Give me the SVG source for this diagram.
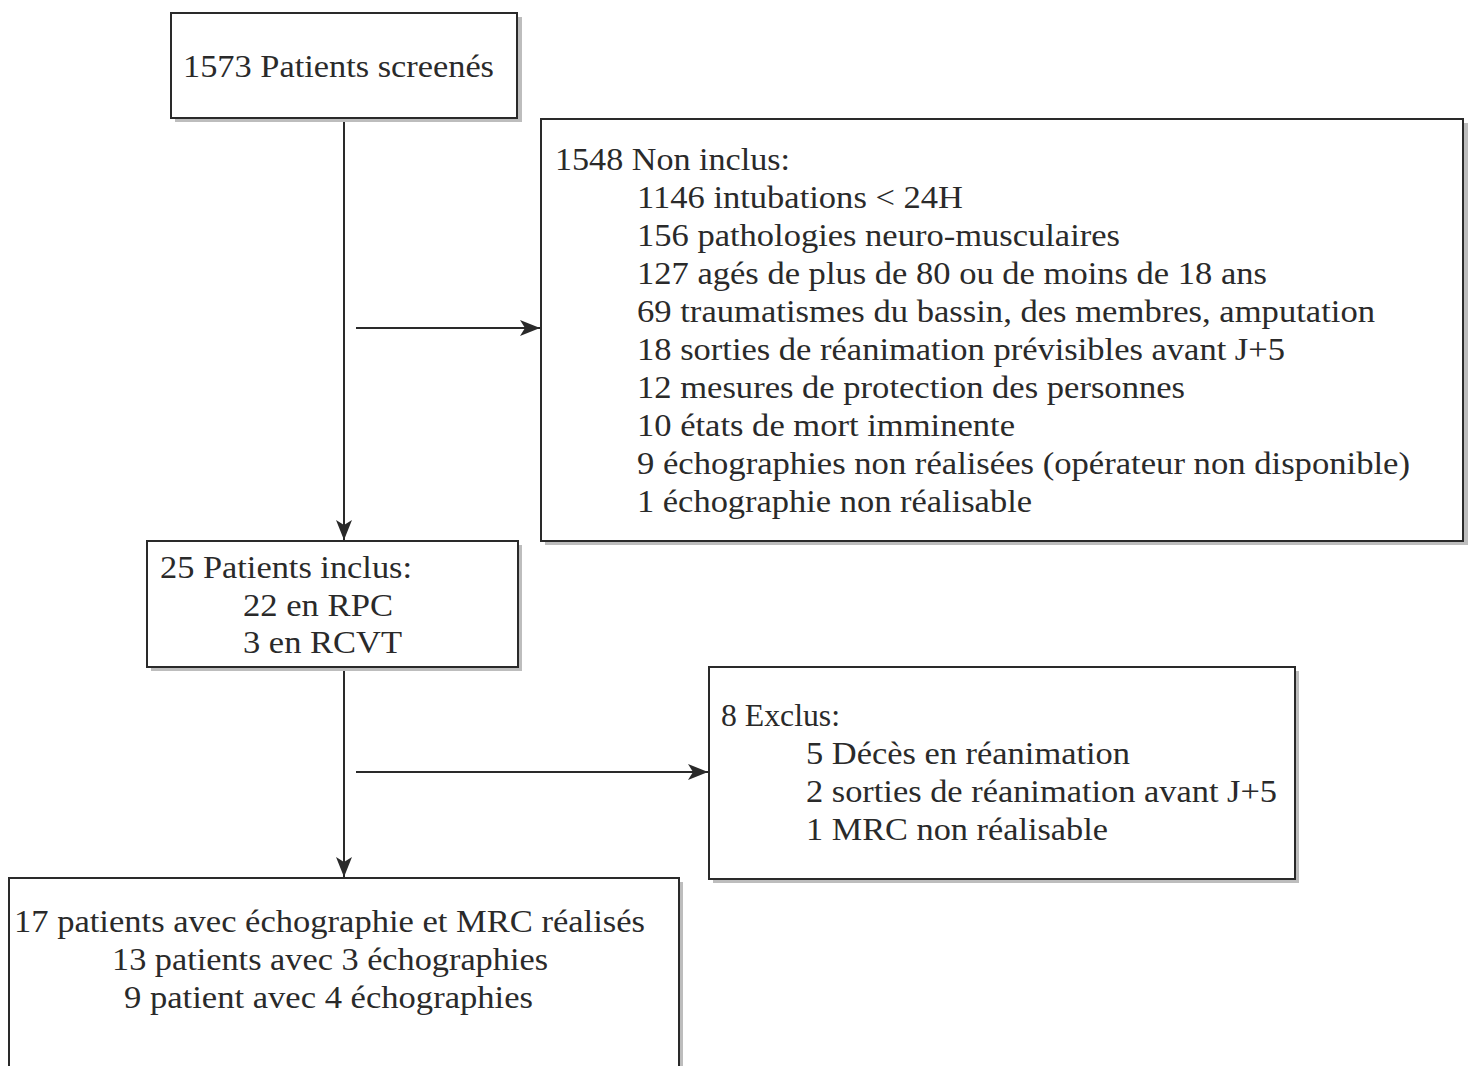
<svg xmlns="http://www.w3.org/2000/svg" width="1473" height="1066" viewBox="0 0 1473 1066">
<style>
.box{fill:#fff;stroke:#2a2a2a;stroke-width:2}
.sh{fill:#bdbdbd}
text{font-family:"Liberation Serif","Times New Roman",serif;font-size:31px;fill:#2a2a2a}
.ln{stroke:#2a2a2a;stroke-width:2;fill:none}
</style>
<defs>
<marker id="ahb" markerWidth="20" markerHeight="16" refX="20" refY="8" orient="auto" markerUnits="userSpaceOnUse" viewBox="0 0 20 16">
<path d="M0,0 L20,8 L0,16 L5,8 Z" fill="#2a2a2a"/>
</marker>
</defs>
<rect width="1473" height="1066" fill="#fff"/>
<g id="connectors">
<line class="ln" x1="344" y1="118" x2="344" y2="540" marker-end="url(#ahb)"/>
<line class="ln" x1="356" y1="328" x2="540" y2="328" marker-end="url(#ahb)"/>
<line class="ln" x1="344" y1="667" x2="344" y2="877" marker-end="url(#ahb)"/>
<line class="ln" x1="356" y1="772" x2="708" y2="772" marker-end="url(#ahb)"/>
</g>
<g id="n1">
<rect class="sh" x="175" y="17" width="347" height="105"/>
<rect class="box" x="171" y="13" width="346" height="105"/>
<text x="183" y="77" textLength="311" lengthAdjust="spacingAndGlyphs">1573 Patients screenés</text>
</g>
<g id="n2">
<rect class="sh" x="545" y="123" width="923" height="422"/>
<rect class="box" x="541" y="119" width="922" height="422"/>
<text x="555" y="170" textLength="235" lengthAdjust="spacingAndGlyphs">1548 Non inclus:</text>
<text x="637" y="208" textLength="326" lengthAdjust="spacingAndGlyphs">1146 intubations &lt; 24H</text>
<text x="637" y="246" textLength="483" lengthAdjust="spacingAndGlyphs">156 pathologies neuro-musculaires</text>
<text x="637" y="284" textLength="630" lengthAdjust="spacingAndGlyphs">127 agés de plus de 80 ou de moins de 18 ans</text>
<text x="637" y="322" textLength="738" lengthAdjust="spacingAndGlyphs">69 traumatismes du bassin, des membres, amputation</text>
<text x="637" y="360" textLength="648" lengthAdjust="spacingAndGlyphs">18 sorties de réanimation prévisibles avant J+5</text>
<text x="637" y="398" textLength="548" lengthAdjust="spacingAndGlyphs">12 mesures de protection des personnes</text>
<text x="637" y="436" textLength="378" lengthAdjust="spacingAndGlyphs">10 états de mort imminente</text>
<text x="637" y="474" textLength="773" lengthAdjust="spacingAndGlyphs">9 échographies non réalisées (opérateur non disponible)</text>
<text x="637" y="512" textLength="395" lengthAdjust="spacingAndGlyphs">1 échographie non réalisable</text>
</g>
<g id="n3">
<rect class="sh" x="151" y="545" width="371" height="126"/>
<rect class="box" x="147" y="541" width="371" height="126"/>
<text x="160" y="578" textLength="252" lengthAdjust="spacingAndGlyphs">25 Patients inclus:</text>
<text x="243" y="616" textLength="150" lengthAdjust="spacingAndGlyphs">22 en RPC</text>
<text x="243" y="653" textLength="159" lengthAdjust="spacingAndGlyphs">3 en RCVT</text>
</g>
<g id="n4">
<rect class="sh" x="713" y="671" width="586" height="212"/>
<rect class="box" x="709" y="667" width="586" height="212"/>
<text x="721" y="726" textLength="119" lengthAdjust="spacingAndGlyphs">8 Exclus:</text>
<text x="806" y="764" textLength="324" lengthAdjust="spacingAndGlyphs">5 Décès en réanimation</text>
<text x="806" y="802" textLength="471" lengthAdjust="spacingAndGlyphs">2 sorties de réanimation avant J+5</text>
<text x="806" y="840" textLength="302" lengthAdjust="spacingAndGlyphs">1 MRC non réalisable</text>
</g>
<g id="n5">
<rect class="sh" x="13" y="882" width="670" height="200"/>
<rect class="box" x="9" y="878" width="670" height="200"/>
<text x="14" y="932" textLength="631" lengthAdjust="spacingAndGlyphs">17 patients avec échographie et MRC réalisés</text>
<text x="112" y="970" textLength="436" lengthAdjust="spacingAndGlyphs">13 patients avec 3 échographies</text>
<text x="124" y="1008" textLength="409" lengthAdjust="spacingAndGlyphs">9 patient avec 4 échographies</text>
</g>
</svg>
